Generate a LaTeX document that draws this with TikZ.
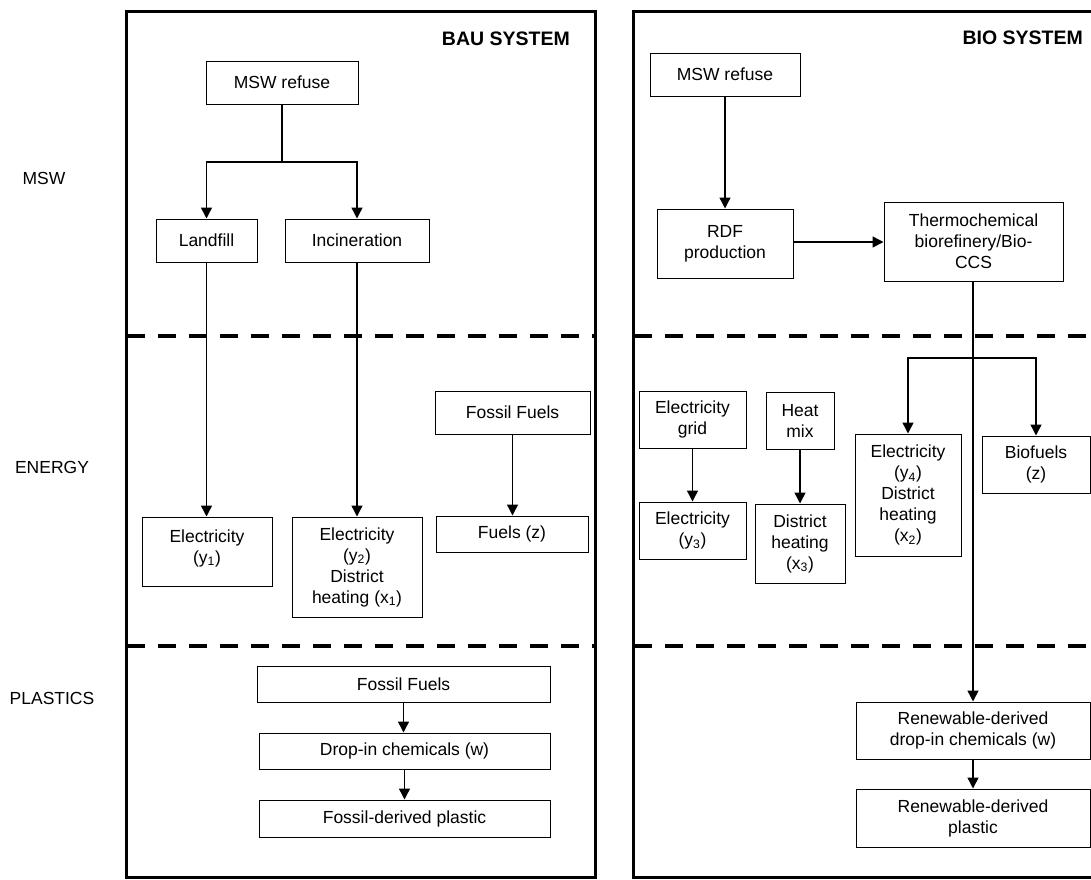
\documentclass[tikz,border=0pt]{standalone}
\usepackage{fontspec}
\setmainfont{Liberation Sans}
\usetikzlibrary{arrows.meta}
\begin{document}
\begin{tikzpicture}[x=1pt,y=-1pt,
  font=\fontsize{17.5}{21}\selectfont,
  box/.style={draw, line width=1pt, inner sep=0pt, align=center},
  frame/.style={draw, line width=3pt},
  sep/.style={line width=4pt, dash pattern=on 18pt off 13pt},
  arr/.style={line width=1.4pt, -{Triangle[width=11pt,length=11pt]}},
  link/.style={line width=1.4pt},
  rowlabel/.style={inner sep=0pt},
  title/.style={inner sep=0pt, font=\fontsize{19.5}{23}\selectfont\bfseries}]
\useasboundingbox (0,0) rectangle (1091,879);

% system frames
\draw[frame] (126,11) rectangle (595,877);
\draw[frame] (1110,11) -- (633,11) -- (633,877) -- (1110,877);

% layer separators
\draw[sep] (127,336) -- (594,336);
\draw[sep] (127,646) -- (594,646);
\draw[sep] (634,336) -- (1095,336);
\draw[sep] (634,646) -- (1095,646);

% layer labels
\node[rowlabel] (lmsw) at (44,178) {MSW};
\node[rowlabel] (lenergy) at (52,467) {ENERGY};
\node[rowlabel] (lplastics) at (52,698) {PLASTICS};

% titles
\node[title, anchor=east] (tbau) at (570,39) {BAU SYSTEM};
\node[title, anchor=east] (tbio) at (1083,38) {BIO SYSTEM};

% ---- BAU system ----
\node[box, minimum width=152pt, minimum height=43pt] (msw1) at (282,82.5) {MSW refuse};
\node[box, minimum width=101pt, minimum height=43pt] (land) at (206.5,240.5) {Landfill};
\node[box, minimum width=144pt, minimum height=43pt] (inc) at (357,240.5) {Incineration};
\node[box, minimum width=130pt, minimum height=69pt] (el1) at (207,551.5) {Electricity\\(y\textsubscript{1})\\[-11pt]\mbox{}};
\node[box, minimum width=130pt, minimum height=100pt] (el2) at (357,567) {Electricity\\(y\textsubscript{2})\\District\\heating (x\textsubscript{1})};
\node[box, minimum width=155pt, minimum height=43pt] (ff1) at (512.5,412.5) {Fossil Fuels};
\node[box, minimum width=152pt, minimum height=36pt] (fz) at (512,534) {Fuels (z)};
\node[box, minimum width=293pt, minimum height=36pt] (ff2) at (403.5,684) {Fossil Fuels};
\node[box, minimum width=291pt, minimum height=36pt] (drop) at (404.5,751) {Drop-in chemicals (w)};
\node[box, minimum width=291pt, minimum height=37pt] (fplast) at (404.5,818.5) {Fossil-derived plastic};

\draw[link] (msw1.south) -- (282,162);
\draw[arr] (282,162) -| (land.north);
\draw[arr] (282,162) -| (inc.north);
\draw[arr] (land.south) -- (land.south |- el1.north);
\draw[arr] (inc.south) -- (el2.north);
\draw[arr] (ff1.south) -- (ff1.south |- fz.north);
\draw[arr] (ff2.south) -- (ff2.south |- drop.north);
\draw[arr] (drop.south) -- (fplast.north);

% ---- BIO system ----
\node[box, minimum width=150pt, minimum height=43pt] (msw2) at (725,74.5) {MSW refuse};
\node[box, minimum width=136pt, minimum height=69pt] (rdf) at (725,243.5) {RDF\\production};
\node[box, minimum width=179pt, minimum height=79pt] (thermo) at (973.5,241.5) {Thermochemical\\biorefinery/Bio-\\CCS};
\node[box, minimum width=107pt, minimum height=57pt] (grid) at (692.5,419.5) {Electricity\\grid};
\node[box, minimum width=107pt, minimum height=57pt] (el3) at (692.5,530.5) {Electricity\\(y\textsubscript{3})};
\node[box, minimum width=68pt, minimum height=57pt] (heat) at (800,420.5) {Heat\\mix};
\node[box, minimum width=90pt, minimum height=79pt] (dh3) at (800,543.5) {District\\heating\\(x\textsubscript{3})};
\node[box, minimum width=106pt, minimum height=122pt] (el4) at (908,495) {Electricity\\(y\textsubscript{4})\\District\\heating\\(x\textsubscript{2})};
\node[box, minimum width=108pt, minimum height=57pt] (bio) at (1036,464.5) {Biofuels\\(z)};
\node[box, minimum width=234pt, minimum height=57pt] (ren1) at (973,730.5) {Renewable-derived\\drop-in chemicals (w)};
\node[box, minimum width=234pt, minimum height=58pt] (ren2) at (973,818) {Renewable-derived\\plastic};

\coordinate (br) at (973,358);
\draw[arr] (msw2.south) -- (rdf.north);
\draw[arr] (rdf.east |- 0,242) -- (thermo.west |- 0,242);
\draw[arr] (973,281) -- (ren1.north);
\draw[arr] (br) -| (el4.north);
\draw[arr] (br) -| (bio.north);
\draw[arr] (grid.south) -- (el3.north);
\draw[arr] (heat.south) -- (dh3.north);
\draw[arr] (ren1.south) -- (ren2.north);
\end{tikzpicture}
\end{document}
